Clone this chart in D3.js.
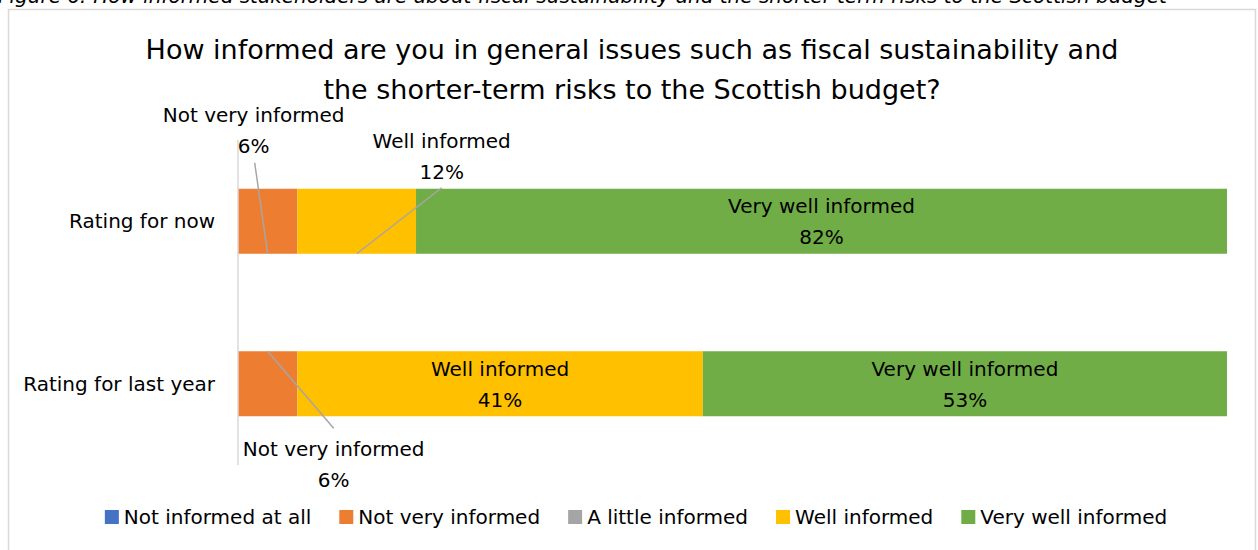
<!DOCTYPE html>
<html>
<head>
<meta charset="utf-8">
<script src="https://cdn.jsdelivr.net/npm/d3@7"></script>
<style>
  html, body { margin: 0; padding: 0; background: #fff; }
  svg { display: block; }
  text { font-family: "DejaVu Sans", sans-serif; fill: #000; }
</style>
</head>
<body>
<svg id="chart" width="1258" height="550"></svg>
<script>
// Survey categories (rows) and response levels (stacked segments)
const categories = ["Rating for now", "Rating for last year"];
const levels = ["Not informed at all", "Not very informed", "A little informed", "Well informed", "Very well informed"];
const colors = ["#4472C4", "#ED7D31", "#A5A5A5", "#FFC000", "#70AD47"];

// Percentage of respondents per level, one array per row
const ratingNow = [0, 6, 0, 12, 82];
const ratingLastYear = [0, 6, 0, 41, 53];
const seriesValues = [ratingNow, ratingLastYear];

const captionText = "Figure 6: How informed stakeholders are about fiscal sustainability and the shorter-term risks to the Scottish budget";
const titleLines = ["How informed are you in general issues such as fiscal sustainability and",
                    "the shorter-term risks to the Scottish budget?"];

const svg = d3.select("#chart");

// Caption above the chart frame (partly clipped by the top edge)
svg.append("text")
  .attr("x", -2).attr("y", 3)
  .style("font-size", "20px").style("font-style", "italic")
  .text(captionText);

// Chart frame
svg.append("rect")
  .attr("x", 8.5).attr("y", 9.5).attr("width", 1247).attr("height", 560)
  .attr("fill", "#fff").attr("stroke", "#D9D9D9").attr("stroke-width", 1.5);

// Title
svg.append("text")
  .attr("text-anchor", "middle")
  .style("font-size", "27px")
  .selectAll("tspan").data(titleLines).join("tspan")
  .attr("x", 632).attr("y", (d, i) => 59 + i * 40)
  .text(d => d);

// Scales
const x = d3.scaleLinear().domain([0, 100]).range([238, 1227]);
const y = d3.scaleBand().domain(categories).range([140, 465])
  .paddingInner(0.6).paddingOuter(0.3);

// Stack the rows
const rows = categories.map((c, i) => {
  const r = { category: c };
  levels.forEach((l, j) => r[l] = seriesValues[i][j]);
  return r;
});
const stacked = d3.stack().keys(levels)(rows);

svg.append("g").selectAll("g.series").data(stacked).join("g")
  .attr("class", "series")
  .attr("fill", (d, i) => colors[i])
  .selectAll("rect").data(d => d.filter(s => s[1] - s[0] > 0)).join("rect")
  .attr("x", d => x(d[0]))
  .attr("width", d => x(d[1]) - x(d[0]))
  .attr("y", d => y(d.data.category))
  .attr("height", y.bandwidth());

// Category axis line
svg.append("line")
  .attr("x1", x(0)).attr("x2", x(0))
  .attr("y1", 140).attr("y2", 465)
  .attr("stroke", "#D9D9D9").attr("stroke-width", 1.5);

// Category labels
const labelSize = "20px";
svg.selectAll("text.cat").data(categories).join("text")
  .attr("class", "cat")
  .attr("x", 215)
  .attr("y", d => y(d) + y.bandwidth() / 2)
  .attr("dy", "0.35em")
  .attr("text-anchor", "end")
  .style("font-size", labelSize)
  .text(d => d);

// Data labels: small segments get a callout with a leader line,
// the rest are centred inside their segment.
// Offsets are relative to the segment's centre on the bar edge.
const callouts = {
  "Rating for now|Not very informed":       { side: "top",    lx: -14,  ly: -139, sx: -13,  sy: -91 },
  "Rating for now|Well informed":           { side: "top",    lx: 85,   ly: -113, sx: 85,   sy: -66 },
  "Rating for last year|Not very informed": { side: "bottom", lx: 66,   ly: 98,   sx: 66,   sy: 77 }
};

stacked.forEach(series => {
  series.forEach(seg => {
    const v = seg[1] - seg[0];
    if (v <= 0) return;
    const cat = seg.data.category;
    const cx = x((seg[0] + seg[1]) / 2);
    const top = y(cat), bottom = top + y.bandwidth();
    const lines = [series.key, v + "%"];
    const co = callouts[cat + "|" + series.key];
    if (co) {
      const ay = co.side === "top" ? bottom : top;
      svg.append("line")
        .attr("x1", cx + co.sx).attr("y1", ay + co.sy)
        .attr("x2", cx).attr("y2", ay)
        .attr("stroke", "#A6A6A6").attr("stroke-width", 1.5);
      svg.append("text")
        .attr("text-anchor", "middle")
        .style("font-size", labelSize)
        .selectAll("tspan").data(lines).join("tspan")
        .attr("x", cx + co.lx)
        .attr("y", (d, i) => ay + co.ly + i * 31)
        .attr("dy", "0.35em")
        .text(d => d);
    } else {
      const my = top + y.bandwidth() / 2;
      svg.append("text")
        .attr("text-anchor", "middle")
        .style("font-size", labelSize)
        .selectAll("tspan").data(lines).join("tspan")
        .attr("x", cx)
        .attr("y", (d, i) => my - 15 + i * 31)
        .attr("dy", "0.35em")
        .text(d => d);
    }
  });
});

// Legend, laid out left to right and centred
const legend = svg.append("g");
const items = legend.selectAll("g").data(levels).join("g");
items.append("rect")
  .attr("width", 14).attr("height", 14)
  .attr("y", -7)
  .attr("fill", (d, i) => colors[i]);
items.append("text")
  .attr("x", 19).attr("dy", "0.35em")
  .style("font-size", labelSize)
  .text(d => d);
const gap = 28;
let cursor = 0;
items.each(function () {
  const w = this.getBBox().width;
  d3.select(this).attr("transform", `translate(${cursor},0)`);
  cursor += w + gap;
});
const legendWidth = cursor - gap;
legend.attr("transform", `translate(${636 - legendWidth / 2},517)`);
</script>
</body>
</html>
